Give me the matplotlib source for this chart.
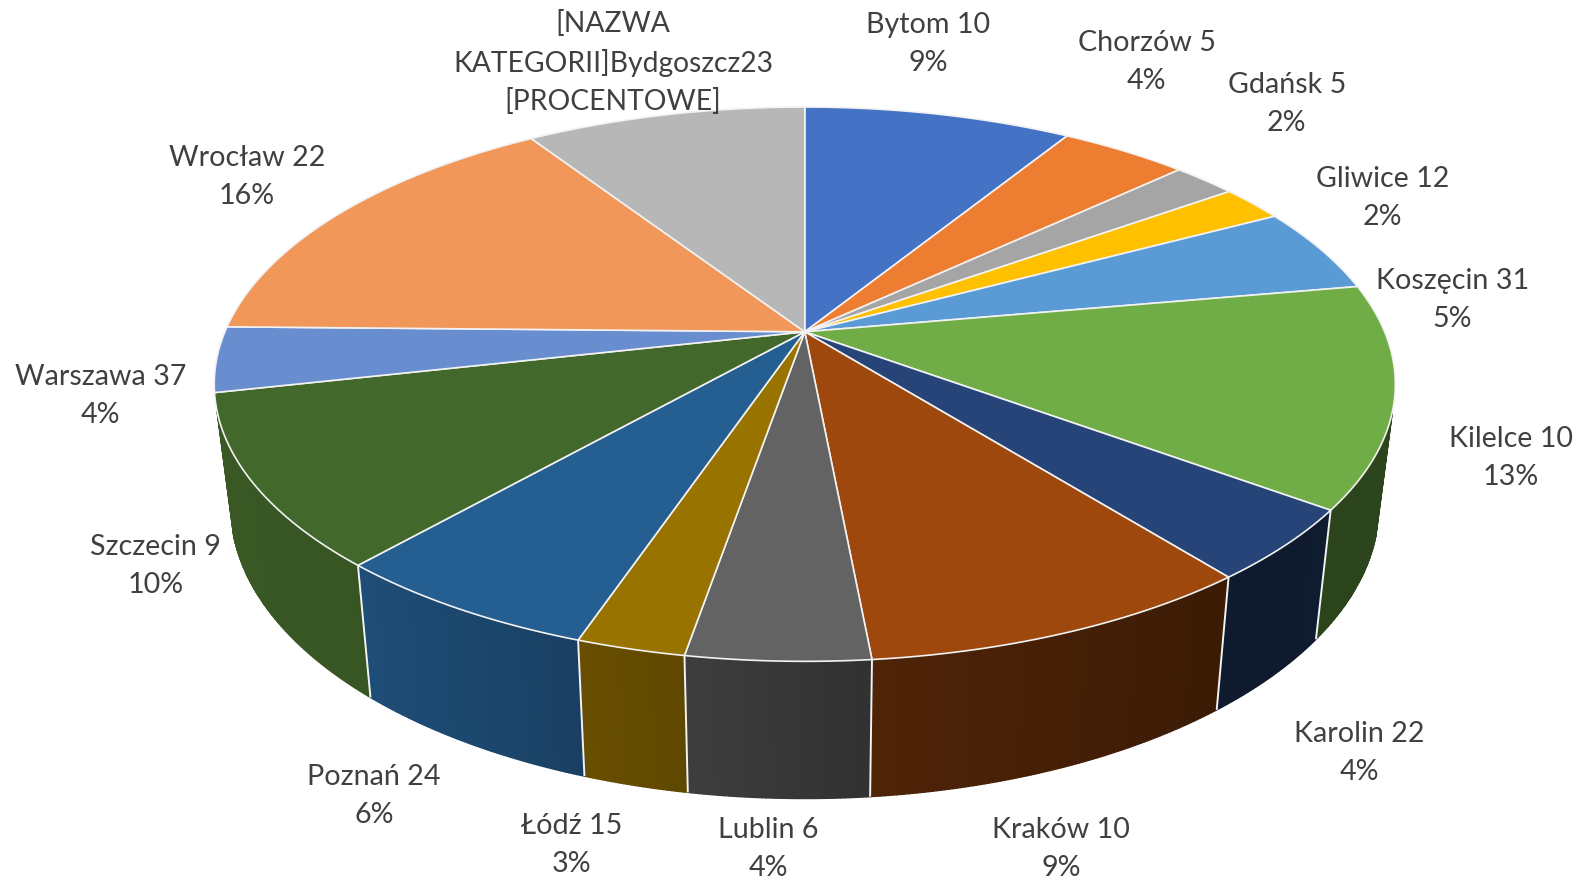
#plot.py

import numpy as np
import matplotlib
matplotlib.use("Agg")
import matplotlib.pyplot as plt
from matplotlib.colors import to_rgb
from matplotlib.patches import Polygon

# slice shares, clockwise from 12 o'clock
shares = [8.8, 4.2, 2.1, 2.1, 5.0, 12.9, 4.2, 9.2, 4.2, 2.5, 6.3, 10.0, 3.8, 15.5, 9.2]
colors = ["#4472C4", "#ED7D31", "#A5A5A5", "#FFC000", "#5B9BD5", "#70AD47", "#264478", "#9E480E",
          "#636363", "#997300", "#255E91", "#43682B", "#698ED0", "#F1975A", "#B7B7B7"]

names = ["Bytom", "Chorzów", "Gdańsk", "Gliwice", "Koszęcin", "Kilelce", "Karolin", "Kraków",
         "Lublin", "Łódź", "Poznań", "Szczecin", "Warszawa", "Wrocław"]
counts = [10, 5, 5, 12, 31, 10, 22, 10, 6, 15, 24, 9, 37, 22]
percents = [9, 4, 2, 2, 5, 13, 4, 9, 4, 3, 6, 10, 4, 16]
broken_label = "[NAZWA\nKATEGORII]Bydgoszcz23\n[PROCENTOWE]"

label_pos = [(920, 43.5), (1137, 61.5), (1276, 103.5), (1371, 196), (1440, 297.5), (1498, 454), (1348, 747),
             (1052, 841.5), (762, 841.5), (567, 837.5), (371, 789), (154, 561), (100, 392.5), (245, 175.5)]
broken_pos = (608, 62)

# perspective of the disc, in picture pixels
CX, CY = 798, 330
A, B, K = 575, 265, 0.189
TEXT = "#404040"

# how dark the side wall gets going left to right
shade_x = [213, 367, 579, 682, 861, 1206, 1384]
shade_v = [0.85, 0.82, 0.68, 0.62, 0.50, 0.38, 0.40]


def top_xy(theta):
    w = 1 + K * np.sin(theta)
    return CX + A * np.cos(theta) / w, CY - B * np.sin(theta) / w


def bottom_xy(theta):
    x, y = top_xy(theta)
    return CX + (x - CX) * 0.972, 792 + 1.054 * (y - 656)


fig = plt.figure(figsize=(15.81, 8.79), dpi=100)
ax = fig.add_axes([0, 0, 1, 1])
ax.set_xlim(0, 1567.7)
ax.set_ylim(871.6, 0)
ax.axis("off")

edges = np.pi / 2 - 2 * np.pi * np.cumsum([0] + shares) / sum(shares)

# side wall first, cut into thin strips to get the gradient
for i, c in enumerate(colors):
    t = np.arange(edges[i], edges[i + 1], -0.006)
    t = np.append(t, edges[i + 1])
    base = np.array(to_rgb(c))
    for t0, t1 in zip(t[:-1], t[1:]):
        if np.sin(t0) > -0.28 or np.sin(t1) > -0.28:
            continue
        x0, y0 = top_xy(t0)
        x1, y1 = top_xy(t1)
        x2, y2 = bottom_xy(t1)
        x3, y3 = bottom_xy(t0)
        col = base * np.interp((x0 + x3) / 2, shade_x, shade_v)
        ax.add_patch(Polygon([(x0, y0), (x1, y1), (x2, y2), (x3, y3)], closed=True,
                             fc=col, ec=col, lw=1.0, zorder=2))

# white seams on the wall
for e in edges[:-1]:
    if np.sin(e) < -0.3:
        x0, y0 = top_xy(e)
        x1, y1 = bottom_xy(e)
        ax.plot([x0, x1], [y0, y1], color="#F2F2F2", lw=1.4, zorder=3, solid_capstyle="butt")

# top of the pie
for i, c in enumerate(colors):
    t = np.linspace(edges[i], edges[i + 1], 80)
    x, y = top_xy(t)
    pts = [(CX, CY)] + list(zip(x, y))
    ax.add_patch(Polygon(pts, closed=True, fc=c, ec="#F2F2F2", lw=1.2, joinstyle="round", zorder=4))

for name, n, p, pos in zip(names, counts, percents, label_pos):
    ax.text(pos[0], pos[1], f"{name} {n}\n{p}%", ha="center", va="center", fontsize=20.6,
            family="Lato", color=TEXT, linespacing=1.58, zorder=5)
ax.text(broken_pos[0], broken_pos[1], broken_label, ha="center", va="center", fontsize=20.3,
        family="Lato", color=TEXT, linespacing=1.53, zorder=5)

fig.savefig("out.png", dpi=100)
